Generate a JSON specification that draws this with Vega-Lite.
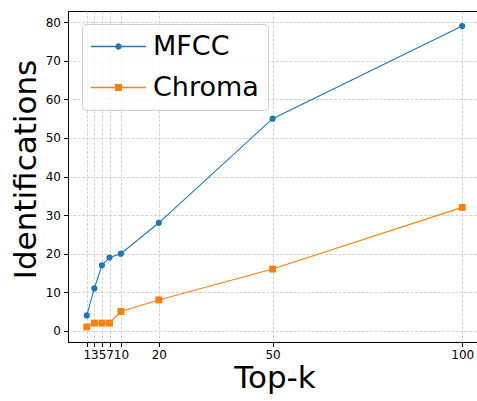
{
  "$schema": "https://vega.github.io/schema/vega-lite/v6.json",
  "autosize": "none",
  "padding": {"left": 68, "top": 11, "right": 0, "bottom": 59},
  "width": 413,
  "height": 331,
  "background": "white",
  "data": {"values": [
    {"series": "MFCC", "k": 1, "value": 4},
    {"series": "MFCC", "k": 3, "value": 11},
    {"series": "MFCC", "k": 5, "value": 17},
    {"series": "MFCC", "k": 7, "value": 19},
    {"series": "MFCC", "k": 10, "value": 20},
    {"series": "MFCC", "k": 20, "value": 28},
    {"series": "MFCC", "k": 50, "value": 55},
    {"series": "MFCC", "k": 100, "value": 79},
    {"series": "Chroma", "k": 1, "value": 1},
    {"series": "Chroma", "k": 3, "value": 2},
    {"series": "Chroma", "k": 5, "value": 2},
    {"series": "Chroma", "k": 7, "value": 2},
    {"series": "Chroma", "k": 10, "value": 5},
    {"series": "Chroma", "k": 20, "value": 8},
    {"series": "Chroma", "k": 50, "value": 16},
    {"series": "Chroma", "k": 100, "value": 32}
  ]},
  "encoding": {
    "x": {
      "field": "k", "type": "quantitative", "title": "Top-k",
      "scale": {"domain": [-3.95, 104.95], "nice": false, "zero": false},
      "axis": {
        "values": [1, 3, 5, 7, 10, 20, 50, 100],
        "labelOverlap": false, "labelFlush": false, "labelBound": false,
        "titleY": 45, "titleBaseline": "alphabetic", "titleAnchor": "middle"
      }
    },
    "y": {
      "field": "value", "type": "quantitative", "title": "Identifications",
      "scale": {"domain": [-2.9, 82.9], "nice": false, "zero": false},
      "axis": {
        "values": [0, 10, 20, 30, 40, 50, 60, 70, 80],
        "titleX": -33, "titleY": 158, "titleBaseline": "alphabetic", "titleAngle": -90
      }
    }
  },
  "layer": [
    {
      "transform": [{"filter": "datum.series == 'MFCC'"}],
      "mark": {"type": "line", "color": "#1f77b4", "strokeWidth": 1.1,
        "point": {"shape": "circle", "filled": true, "size": 38, "color": "#1f77b4", "opacity": 1}}
    },
    {
      "transform": [{"filter": "datum.series == 'Chroma'"}],
      "mark": {"type": "line", "color": "#ff7f0e", "strokeWidth": 1.1,
        "point": {"shape": "square", "filled": true, "size": 48, "color": "#ff7f0e", "opacity": 1}}
    },
    {
      "transform": [{"filter": "datum.k < 0"}],
      "mark": {"type": "point", "filled": true, "size": 3025, "opacity": 1},
      "encoding": {
        "color": {
          "field": "series", "type": "nominal",
          "scale": {"domain": ["MFCC", "Chroma"], "range": ["#1f77b4", "#ff7f0e"]},
          "legend": {"title": null}
        },
        "shape": {
          "field": "series", "type": "nominal",
          "scale": {"domain": ["MFCC", "Chroma"], "range": [
            "M-1,-0.024H1V0.024H-1ZM0.116,0A0.116,0.116 0 1,1 -0.116,0A0.116,0.116 0 1,1 0.116,0Z",
            "M-1,-0.024H1V0.024H-1ZM-0.127,-0.127H0.127V0.127H-0.127Z"
          ]},
          "legend": {"title": null}
        }
      }
    }
  ],
  "config": {
    "view": {"stroke": "black", "strokeWidth": 1},
    "font": "DejaVu Sans",
    "axis": {
      "domainColor": "black", "domainWidth": 1,
      "tickColor": "black", "tickSize": 4.5, "tickWidth": 1,
      "labelFont": "DejaVu Sans", "labelFontSize": 12, "labelColor": "black", "labelPadding": 3,
      "titleFont": "DejaVu Sans", "titleFontSize": 31, "titleFontWeight": "normal", "titleColor": "black",
      "grid": true, "gridColor": "#c8c8c8", "gridDash": [3, 1.5], "gridWidth": 0.8
    },
    "legend": {
      "orient": "none", "legendX": 14, "legendY": 13, "direction": "vertical",
      "padding": 9, "fillColor": "rgba(255,255,255,0.8)", "strokeColor": "#cccccc", "cornerRadius": 4,
      "labelFont": "DejaVu Sans", "labelFontSize": 27, "labelColor": "black", "labelOffset": 7,
      "rowPadding": 13, "symbolSize": 3025, "symbolStrokeWidth": 0, "clipHeight": 27, "symbolOpacity": 1
    }
  }
}
